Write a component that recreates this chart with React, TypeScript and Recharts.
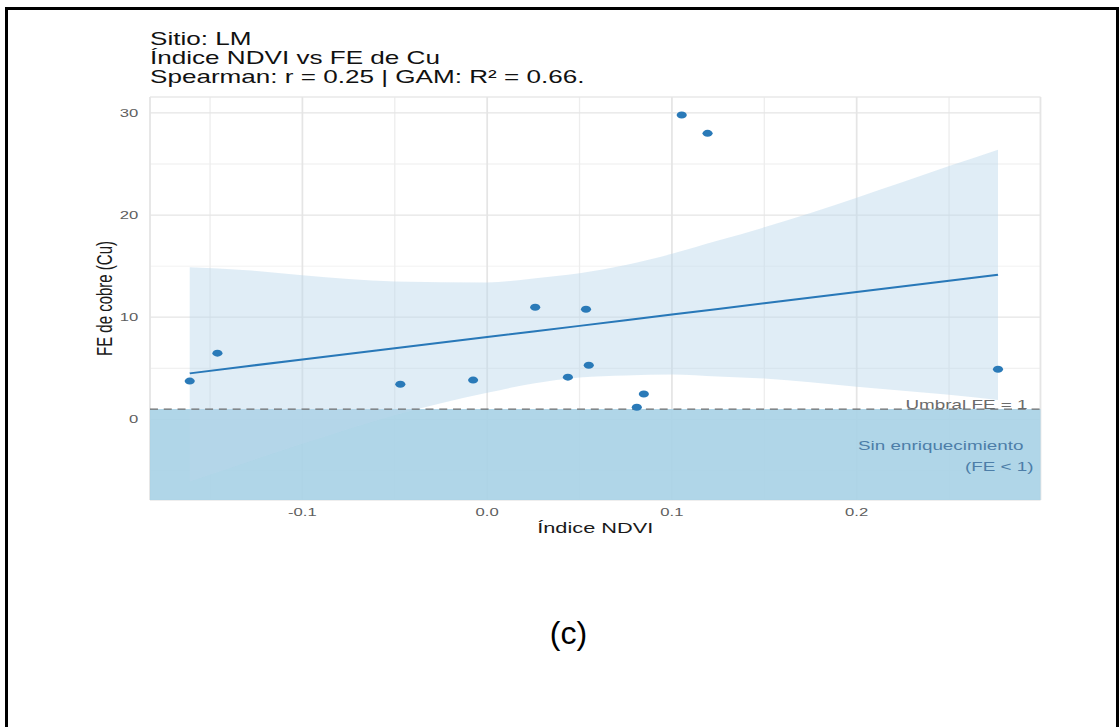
import React from 'react';
import {
  ComposedChart,
  XAxis,
  YAxis,
  CartesianGrid,
  Area,
  Line,
  Scatter,
  ReferenceArea,
  ReferenceLine,
} from 'recharts';

// the reference image is stretched sideways, so the chart is drawn narrow and scaled
const STRETCH = 1.45;
const FULL_W = 1119;
const FULL_H = 727;
const CHART_W = FULL_W / STRETCH;
const FONT = '"Liberation Sans", Arial, sans-serif';

// observed points (NDVI vs FE of Cu)
const ndvi = [-0.161, -0.146, -0.047, -0.0076, 0.026, 0.0437, 0.0535, 0.055, 0.081, 0.0848, 0.1053, 0.1193, 0.2765];
const feCu = [3.74, 6.48, 3.44, 3.84, 10.98, 4.13, 10.78, 5.3, 1.19, 2.47, 29.8, 28.0, 4.91];

// fitted line and its confidence band
const fitX = [-0.161, -0.13, -0.1, -0.05, 0, 0.025, 0.05, 0.075, 0.1, 0.125, 0.15, 0.2, 0.25, 0.2765];
const fitY = [4.5, 5.2, 5.85, 6.95, 8.05, 8.6, 9.15, 9.7, 10.26, 10.8, 11.36, 12.46, 13.57, 14.15];
const fitLo = [-6.1, -4.2, -2.4, 0.4, 2.6, 3.5, 4.1, 4.3, 4.4, 4.2, 4.0, 3.2, 2.4, 1.9];
const fitHi = [14.9, 14.6, 14.1, 13.5, 13.4, 13.8, 14.3, 15.1, 16.2, 17.5, 18.8, 21.7, 24.8, 26.4];

const xTicks = [-0.1, 0, 0.1, 0.2];
const xMinor = [-0.15, -0.05, 0.05, 0.15, 0.25];
const yTicks = [0, 10, 20, 30];
const yMinor = [-5, 5, 15, 25];
const xDomain = [-0.1825, 0.2995];
const yDomain = [-7.9, 31.56];
const umbral = 1;

const titleLines = ['Sitio: LM', 'Índice NDVI vs FE de Cu', 'Spearman: r = 0.25 | GAM: R² = 0.66.'];

const points = ndvi.map((x, i) => ({ x, y: feCu[i] }));
const band = fitX.map((x, i) => ({ x, fit: fitY[i], band: [fitLo[i], fitHi[i]] }));

export default function App() {
  const panelLeft = 150 / STRETCH;
  const panelRight = 1040.5 / STRETCH;
  return (
    <div style={{ position: 'absolute', left: 0, top: 0, width: FULL_W, height: FULL_H, background: '#fff', fontFamily: FONT }}>
      <div
        style={{
          position: 'absolute',
          left: 0,
          top: 0,
          width: CHART_W,
          height: FULL_H,
          transform: `scaleX(${STRETCH})`,
          transformOrigin: '0 0',
        }}
      >
        <svg width={CHART_W} height={120} style={{ position: 'absolute', left: 0, top: 0 }}>
          {titleLines.map((t, i) => (
            <text key={t} x={panelLeft} y={45 + i * 19} fontSize={18} fill="#111" fontFamily={FONT}>
              {t}
            </text>
          ))}
        </svg>
        <div style={{ position: 'absolute', left: 0, top: 0 }}>
          <ComposedChart
            width={CHART_W}
            height={FULL_H}
            data={band}
            margin={{ top: 97, right: CHART_W - panelRight, bottom: 197, left: panelLeft - 40 }}
          >
            <CartesianGrid stroke="#EDEDED" strokeWidth={0.9} xAxisId="minor" yAxisId="minor" />
            <CartesianGrid stroke="#E5E5E5" strokeWidth={1.2} />
            <XAxis xAxisId="minor" type="number" dataKey="x" domain={xDomain} ticks={xMinor} allowDataOverflow hide />
            <YAxis yAxisId="minor" type="number" domain={yDomain} ticks={yMinor} allowDataOverflow hide />
            <XAxis
              type="number"
              dataKey="x"
              domain={xDomain}
              ticks={xTicks}
              allowDataOverflow
              axisLine={false}
              tickLine={false}
              height={30}
              tickFormatter={(v: number) => v.toFixed(1)}
              tick={{ fontSize: 11.5, fill: '#5E5E5E', fontFamily: FONT }}
              label={{
                content: (p: any) => (
                  <text
                    x={p.viewBox.x + p.viewBox.width / 2}
                    y={p.viewBox.y + 33.5}
                    textAnchor="middle"
                    fontSize={15}
                    fill="#1a1a1a"
                    fontFamily={FONT}
                  >
                    Índice NDVI
                  </text>
                ),
              }}
            />
            <YAxis
              type="number"
              domain={yDomain}
              ticks={yTicks}
              allowDataOverflow
              axisLine={false}
              tickLine={false}
              width={40}
              tick={{ fontSize: 11.5, fill: '#5E5E5E', fontFamily: FONT }}
              label={{
                content: (p: any) => {
                  const cx = p.viewBox.x + 13.5;
                  const cy = p.viewBox.y + p.viewBox.height / 2;
                  return (
                    <text
                      x={cx}
                      y={cy}
                      transform={`rotate(-90 ${cx} ${cy})`}
                      textAnchor="middle"
                      fontSize={15}
                      fill="#1a1a1a"
                      fontFamily={FONT}
                    >
                      FE de cobre (Cu)
                    </text>
                  );
                },
              }}
            />
            <ReferenceArea
              y1={yDomain[0]}
              y2={umbral}
              fill="#A9D3E6"
              fillOpacity={0.92}
              stroke="none"
              label={{
                content: (p: any) => {
                  const vb = p.viewBox;
                  return (
                    <g fontFamily={FONT} fontSize={13} fill="#4D7EA8">
                      <text x={vb.x + vb.width - 11.7} y={vb.y + 40.5} textAnchor="end">
                        Sin enriquecimiento
                      </text>
                      <text x={vb.x + vb.width - 4.8} y={vb.y + 61.5} textAnchor="end">
                        (FE &lt; 1)
                      </text>
                    </g>
                  );
                },
              }}
            />
            <Area
              dataKey="band"
              type="monotone"
              fill="#BBD6EB"
              fillOpacity={0.45}
              stroke="none"
              isAnimationActive={false}
            />
            <ReferenceLine
              y={umbral}
              stroke="#6E6E6E"
              strokeWidth={1.3}
              strokeDasharray="5.5 4"
              label={{
                content: (p: any) => {
                  const vb = p.viewBox;
                  return (
                    <text
                      x={vb.x + vb.width - 9}
                      y={vb.y - 0.5}
                      textAnchor="end"
                      fontSize={13}
                      fill="#6B6B6B"
                      fontFamily={FONT}
                    >
                      Umbral FE = 1
                    </text>
                  );
                },
              }}
            />
            <Line
              dataKey="fit"
              type="linear"
              stroke="#2878B8"
              strokeWidth={2}
              dot={false}
              isAnimationActive={false}
            />
            <Scatter
              data={points}
              dataKey="y"
              fill="#2A7AB8"
              isAnimationActive={false}
              shape={(p: any) => <circle cx={p.cx} cy={p.cy} r={3.5} fill="#2A7AB8" />}
            />
          </ComposedChart>
        </div>
      </div>
      <svg width={FULL_W} height={FULL_H} style={{ position: 'absolute', left: 0, top: 0, pointerEvents: 'none' }}>
        <rect x={5} y={7} width={3} height={FULL_H - 7} fill="#000" />
        <rect x={5} y={7} width={FULL_W - 5} height={3} fill="#000" />
        <rect x={1116} y={7} width={3} height={FULL_H - 7} fill="#000" />
        <text x={568.5} y={644} textAnchor="middle" fontSize={32} fill="#000" fontFamily={FONT}>
          (c)
        </text>
      </svg>
    </div>
  );
}
